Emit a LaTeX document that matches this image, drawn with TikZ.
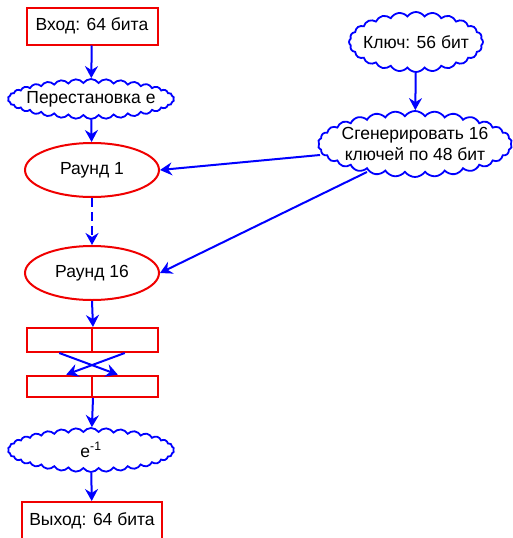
\documentclass[tikz,border=0pt]{standalone}
\usepackage{fontspec}
\setmainfont{Liberation Sans}
\usetikzlibrary{shapes.geometric,shapes.symbols,arrows.meta,calc}
\definecolor{boxred}{RGB}{240,0,0}
\definecolor{flowblue}{RGB}{0,0,255}
\tikzset{
  every node/.style={font=\fontsize{17.5pt}{21pt}\selectfont, text=black, align=center},
  redbox/.style={draw=boxred, line width=2pt, fill=white, rectangle, inner sep=0pt},
  roundbox/.style={draw=boxred, line width=2pt, fill=white, ellipse, inner sep=0pt,
    minimum width=134pt, minimum height=54pt},
  cloudbox/.style={draw=flowblue, line width=1.8pt, fill=white, cloud, cloud puffs=34,
    cloud puff arc=110, cloud ignores aspect, inner xsep=-14pt, inner ysep=-8pt},
  flow/.style={draw=flowblue, line width=2pt,
    -{Stealth[length=12pt,width=13pt,inset=4pt]}},
}
\begin{document}
\begin{tikzpicture}[x=1pt,y=-1pt]
\useasboundingbox (0,0) rectangle (513,538);

% left column
\node[redbox, minimum width=131pt, minimum height=37pt] (in) at (92,26) {Вход: 64 бита};
\node[cloudbox, minimum width=166pt, minimum height=40pt] (perm) at (91,99) {Перестановка e};
\node[roundbox] (r1) at (92,170) {Раунд 1};
\node[roundbox] (r16) at (92,273) {Раунд 16};

% swap of halves
\node[redbox, minimum width=65.5pt, minimum height=24pt] (ha) at (59.25,340) {};
\node[redbox, minimum width=65.5pt, minimum height=24pt] (hb) at (124.75,340) {};
\node[redbox, minimum width=65.5pt, minimum height=21pt] (la) at (59.25,386.5) {};
\node[redbox, minimum width=65.5pt, minimum height=21pt] (lb) at (124.75,386.5) {};

\node[cloudbox, minimum width=166pt, minimum height=44pt] (inv) at (91,450) {e\textsuperscript{-1}};
\node[redbox, minimum width=140pt, minimum height=38pt] (out) at (92,521) {Выход: 64 бита};

% key schedule
\node[cloudbox, cloud puffs=24, minimum width=134pt, minimum height=60pt] (key) at (416,42) {Ключ: 56 бит};
\node[cloudbox, cloud puffs=30, minimum width=194pt, minimum height=66pt] (gen) at (415,144)
  {Сгенерировать 16\\ключей по 48 бит};

% connectors
\draw[flow] (in) -- (perm);
\draw[flow] (perm) -- (r1);
\draw[flow, dash pattern=on 9pt off 5pt] (r1) -- (r16);
\draw[flow] (r16.south) -- (ha.north east);
\draw[flow, shorten >=1pt] (ha.south) -- ([xshift=-6pt]lb.north);
\draw[flow, shorten >=1pt] (hb.south) -- ([xshift=6pt]la.north);
\draw[flow] (la.south east) -- (inv);
\draw[flow] (inv) -- (out);
\draw[flow] (key) -- (gen);
\draw[flow] ($(gen.center)+(-95,11)$) -- (r1.east);
\draw[flow] ($(gen.center)+(-48,28)$) -- (r16.east);
\end{tikzpicture}
\end{document}
